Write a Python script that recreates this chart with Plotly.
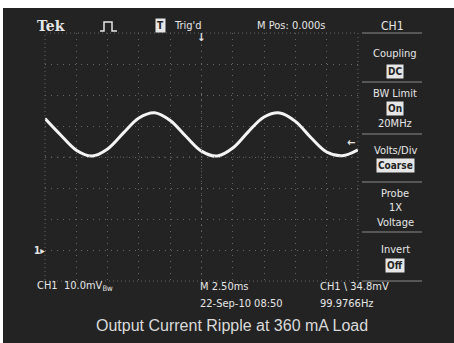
import plotly.graph_objects as go

time_ms = [-12.5, -11.25, -10.0, -8.75, -7.5, -6.25, -5.0, -3.75, -2.5, -1.25, 0.0,
           1.25, 2.5, 3.75, 5.0, 6.25, 7.5, 8.75, 10.0, 11.25, 12.5]
ripple_mV = [42.4, 37.1, 32.2, 30.3, 32.6, 37.7, 42.6, 44.3, 41.8, 36.7, 31.9,
             30.3, 32.9, 38.2, 42.9, 44.2, 41.5, 36.2, 31.6, 30.4, 32.3]
x_range = [-12.5, 12.5]
y_range = [-10, 70]
trigger_mV = 34.8
ground_mV = 0.0

top_labels = ["Tek", "Trig'd", "M Pos: 0.000s", "CH1"]
menu_labels = [("Coupling", 53, False), ("DC", 71, True), ("BW Limit", 93, False),
               ("On", 109, True), ("20MHz", 123, False), ("Volts/Div", 150, False),
               ("Coarse", 165, True), ("Probe", 193, False), ("1X", 208, False),
               ("Voltage", 222, False), ("Invert", 249, False), ("Off", 265, True)]
bottom_labels = [("CH1  10.0mV<sub>Bw</sub>", 35, 286), ("M 2.50ms", 198, 286),
                 ("CH1 \\ 34.8mV", 318, 286), ("22-Sep-10 08:50", 198, 303),
                 ("99.9766Hz", 318, 303)]
title_text = "Output Current Ripple at 360 mA Load"

# ---- layout helpers (pixel -> paper) ----
L, T, W, H = 45, 33, 313, 248
WIDTH, HEIGHT = 454, 343
def px(x):
    return (x - L) / W
def py(y):
    return (T + H - y) / H

BG = "#232323"
FG = "#e6e6e6"
GRID = "#666666"
NARROW = "DejaVu Sans Condensed, Liberation Sans Narrow, Arial Narrow, sans-serif"

fig = go.Figure()
fig.add_trace(go.Scatter(x=time_ms, y=ripple_mV, mode="lines",
                         line=dict(color="#f4f4f4", width=3, shape="spline", smoothing=1.0),
                         hoverinfo="skip", showlegend=False))

ann = []
def text(s, x, y, size=11, color=FG, family=NARROW, xanchor="center", bg=None, bold=False):
    d = dict(text=("<b>%s</b>" % s) if bold else s, x=px(x), y=py(y), xref="paper", yref="paper",
             showarrow=False, xanchor=xanchor, yanchor="middle",
             font=dict(size=size, color=color, family=family))
    if bg:
        d.update(bgcolor=bg, borderpad=1)
    ann.append(d)

# top bar
text(top_labels[0], 35, 26, size=14, family="DejaVu Serif, Liberation Serif, serif", xanchor="left", bold=True)
text("T", 160, 26, size=10, color=BG, bg=FG, bold=True)
text(top_labels[1], 172, 26, size=11, xanchor="left")
text(top_labels[2], 291, 26, size=11)
text(top_labels[3], 392, 26, size=12)
# trigger position marker and level markers
text("\u2193", 201, 38, size=11, bold=True)
ann.append(dict(text="<b>\u2190</b>", x=px(345), y=trigger_mV, xref="paper", yref="y",
                showarrow=False, xanchor="left", yanchor="middle",
                font=dict(size=11, color=FG, family=NARROW)))
ann.append(dict(text="<b>1\u25b8</b>", x=px(47), y=ground_mV, xref="paper", yref="y",
                showarrow=False, xanchor="right", yanchor="middle",
                font=dict(size=10, color=FG, family=NARROW)))
# side menu
for s, y, boxed in menu_labels:
    if boxed:
        text(s, 395, y, size=10, color=BG, bg=FG, bold=True)
    else:
        text(s, 395, y, size=11)
# bottom readouts
for s, x, y in bottom_labels:
    text(s, x, y, size=11, xanchor="left")
text(title_text, 232, 325, size=16, color="#dadada", family="Liberation Sans, Arial, sans-serif")

shapes = []
# dark screen area (white band at top and left edge like the photo)
shapes.append(dict(type="rect", xref="paper", yref="paper", layer="below",
                   x0=px(3), x1=px(WIDTH + 2), y0=py(HEIGHT + 2), y1=py(8),
                   line=dict(width=0), fillcolor=BG))
# dotted graticule border
shapes.append(dict(type="rect", xref="paper", yref="paper", x0=0, x1=1, y0=0, y1=1,
                   line=dict(color=GRID, width=1, dash="1px,3px")))
# menu separators
for y in [33, 82, 134, 182, 232, 281]:
    shapes.append(dict(type="line", xref="paper", yref="paper", x0=px(362), x1=px(422),
                       y0=py(y), y1=py(y), line=dict(color="#8a8a8a", width=1)))
# trigger-type pulse symbol
shapes.append(dict(type="path", xref="paper", yref="paper",
                   path="M %f %f L %f %f L %f %f L %f %f L %f %f L %f %f" % (
                       px(100), py(31), px(104), py(31), px(104), py(22),
                       px(112), py(22), px(112), py(31), px(117), py(31)),
                   line=dict(color=FG, width=1.5)))
# center crosshair ticks
shapes.append(dict(type="line", xref="paper", yref="paper", x0=0, x1=1, y0=0.5, y1=0.5,
                   line=dict(color=GRID, width=1, dash="1px,5.26px")))
shapes.append(dict(type="line", xref="paper", yref="paper", x0=0.5, x1=0.5, y0=0, y1=1,
                   line=dict(color=GRID, width=1, dash="1px,5.2px")))

fig.update_layout(
    width=WIDTH, height=HEIGHT,
    margin=dict(l=L, r=WIDTH - L - W, t=T, b=HEIGHT - T - H),
    paper_bgcolor="#ffffff", plot_bgcolor="rgba(0,0,0,0)",
    annotations=ann, shapes=shapes, showlegend=False,
    xaxis=dict(range=x_range, dtick=2.5, tick0=0, showgrid=True, gridcolor=GRID,
               griddash="1px,5px", gridwidth=1, zeroline=False, showticklabels=False,
               ticks="", showline=False, fixedrange=True),
    yaxis=dict(range=y_range, dtick=10, tick0=0, showgrid=True, gridcolor=GRID,
               griddash="1px,5px", gridwidth=1, zeroline=False, showticklabels=False,
               ticks="", showline=False, fixedrange=True),
)

fig.write_html("out.html", config={"displayModeBar": False},
               post_script="document.body.style.margin='0';document.body.style.overflow='hidden';")
